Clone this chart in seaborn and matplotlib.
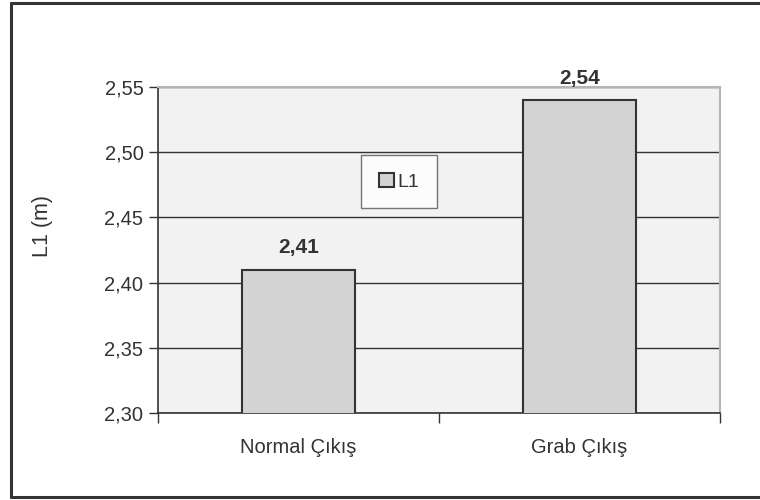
import matplotlib
matplotlib.use('Agg')
import matplotlib.pyplot as plt
import matplotlib.ticker as mticker
from matplotlib.lines import Line2D
import seaborn as sns

# Data
categories = ['Normal Çıkış', 'Grab Çıkış']
values = [2.41, 2.54]
series_name = 'L1'
y_label = 'L1 (m)'

sns.set_style('white')
plt.rcParams['font.family'] = ['Liberation Sans', 'DejaVu Sans']

fig = plt.figure(figsize=(7.6, 5), dpi=100)
ax = fig.add_axes([158 / 760, 87 / 500, (720 - 158) / 760, (413 - 87) / 500])
ax.set_facecolor('#f2f2f2')

sns.barplot(x=categories, y=values, width=0.4, color='#d3d3d3',
            edgecolor='#333333', linewidth=1.5, label=series_name, ax=ax,
            zorder=3)

ax.set_ylim(2.30, 2.55)
ax.set_xlim(-0.5, 1.5)
ax.yaxis.set_major_locator(mticker.MultipleLocator(0.05))
ax.yaxis.set_major_formatter(mticker.FuncFormatter(lambda v, p: f'{v:.2f}'.replace('.', ',')))
ax.grid(axis='y', color='#333333', linewidth=1, zorder=0)
ax.set_axisbelow(True)

# ticks
ax.tick_params(axis='y', direction='out', length=6.5, width=1, color='#333333',
               labelsize=14.5, labelcolor='#333333', pad=4, left=True)
ax.set_xticks([0, 1])
ax.set_xticklabels(categories)
ax.tick_params(axis='x', length=0, labelsize=14.5, labelcolor='#333333', pad=18)
ax.set_xticks([-0.5, 0.5, 1.5], minor=True)
ax.tick_params(axis='x', which='minor', direction='out', length=7, width=1,
               color='#333333', bottom=True)

ax.set_xlabel('')
ax.set_ylabel(y_label, fontsize=15.5, color='#333333')
ax.yaxis.set_label_coords(-0.187, 0.574)

for side in ['left', 'bottom']:
    ax.spines[side].set_color('#333333')
    ax.spines[side].set_linewidth(1.2)
for side in ['top', 'right']:
    ax.spines[side].set_color('#b5b5b5')
    ax.spines[side].set_linewidth(1.5)

# value labels
for i, v in enumerate(values):
    ax.annotate(f'{v:.2f}'.replace('.', ','), xy=(i, v), xytext=(0, 9),
                textcoords='offset points', ha='center', va='bottom',
                fontsize=15, fontweight='bold', color='#333333',
                annotation_clip=False)

leg = ax.legend(loc='center', bbox_to_anchor=(0.429, 0.709), fontsize=14,
                frameon=True, fancybox=False, edgecolor='#555555',
                handlelength=0.75, handleheight=0.75, handletextpad=0.2,
                borderpad=0.9, borderaxespad=0)
leg.get_frame().set_linewidth(1)
leg.get_frame().set_facecolor('white')
for t in leg.get_texts():
    t.set_color('#333333')

# outer border (left, top, bottom; right side is cut off)
for xs, ys in [([11, 11], [3, 497]), ([11, 760], [3, 3]), ([11, 760], [497, 497])]:
    fig.add_artist(Line2D([x / 760 for x in xs], [1 - y / 500 for y in ys],
                          transform=fig.transFigure, color='#333333',
                          linewidth=2.2))

fig.savefig('out.png', dpi=100)
